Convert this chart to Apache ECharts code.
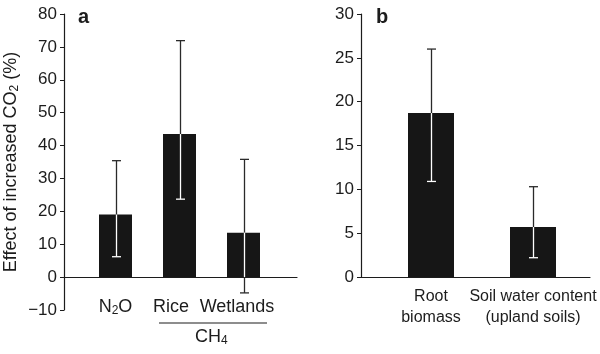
<!DOCTYPE html>
<html>
<head>
<meta charset="utf-8">
<script src="https://cdn.jsdelivr.net/npm/echarts@6/dist/echarts.min.js"></script>
<style>
  html, body { margin: 0; padding: 0; background: #fff; }
  #chart { width: 600px; height: 354px; }
</style>
</head>
<body>
<div id="chart"></div>
<script>
// Panel a: gas emissions
var catsA = ['N2O', 'Rice', 'Wetlands'];
var valuesA = [19.0, 43.5, 13.5];
var lowA = [6.2, 23.7, -4.8];
var highA = [35.4, 71.9, 35.8];

// Panel b: root biomass / soil water
var catsB = ['Root\nbiomass', 'Soil water content\n(upland soils)'];
var valuesB = [18.7, 5.7];
var lowB = [10.9, 2.2];
var highB = [26.0, 10.3];

var FONT = 'Liberation Sans';
var INK = '#1c1c1c';

// main text + subscript styles for rich labels
function subRich(fill, size) {
    var key = fill ? 'fill' : 'color';
    var a = { fontSize: size, fontFamily: FONT, lineHeight: 20, verticalAlign: 'middle' };
    var s = { fontSize: 12, fontFamily: FONT, lineHeight: 8, verticalAlign: 'bottom' };
    a[key] = INK;
    s[key] = INK;
    return { a: a, s: s };
}

function errData(values, low, high) {
    return values.map(function(v, i) { return [i, v, low[i], high[i]]; });
}

// error bar: black outside the bar, white inside it
function renderErr(params, api) {
    var i = api.value(0);
    var v = api.value(1), lo = api.value(2), hi = api.value(3);
    var x = Math.round(api.coord([i, v])[0]) + 0.5;
    var yV = api.coord([i, v])[1];
    var yHi = api.coord([i, hi])[1];
    var yLo = api.coord([i, lo])[1];
    var yZero = api.coord([i, 0])[1];
    var cap = 4.5;
    var children = [];
    var dark = { stroke: '#2a2a2a', lineWidth: 1.3 };
    var light = { stroke: '#ffffff', lineWidth: 1.3 };
    children.push({ type: 'line', shape: { x1: x, y1: yHi, x2: x, y2: yV }, style: dark });
    children.push({ type: 'line', shape: { x1: x - cap, y1: yHi, x2: x + cap, y2: yHi }, style: dark });
    if (lo >= 0) {
        children.push({ type: 'line', shape: { x1: x, y1: yV, x2: x, y2: yLo }, style: light });
        children.push({ type: 'line', shape: { x1: x - cap, y1: yLo, x2: x + cap, y2: yLo }, style: light });
    } else {
        children.push({ type: 'line', shape: { x1: x, y1: yV, x2: x, y2: yZero }, style: light });
        children.push({ type: 'line', shape: { x1: x, y1: yZero, x2: x, y2: yLo }, style: dark });
        children.push({ type: 'line', shape: { x1: x - cap, y1: yLo, x2: x + cap, y2: yLo }, style: dark });
    }
    return { type: 'group', children: children };
}

var chart = echarts.init(document.getElementById('chart'));

var yLabel = {
    color: INK, fontSize: 17, fontFamily: FONT, margin: 7,
    formatter: function(v) { return String(v).replace('-', '\u2212'); }
};

var richA = subRich(false, 18);
// Rice and Wetlands labels sit a little left of their bars
richA.rice = { fontSize: 18, fontFamily: FONT, color: INK, lineHeight: 20, padding: [0, 17, 0, 0] };
richA.wet = { fontSize: 18, fontFamily: FONT, color: INK, lineHeight: 20, padding: [0, 13, 0, 0] };

var option = {
    animation: false,
    backgroundColor: '#fff',
    textStyle: { fontFamily: FONT },
    title: [
        { text: 'a', left: 73, top: 2, textStyle: { fontSize: 20, fontWeight: 'bold', color: INK, fontFamily: FONT } },
        { text: 'b', left: 371, top: 2, textStyle: { fontSize: 20, fontWeight: 'bold', color: INK, fontFamily: FONT } }
    ],
    grid: [
        { left: 64, top: 14, width: 233, height: 296 },   // axes a
        { left: 83.5, top: 14, width: 192, height: 296 }, // bars a
        { left: 361, top: 14, width: 229, height: 263 },  // axes b
        { left: 380, top: 14, width: 204, height: 263 }   // bars b
    ],
    xAxis: [
        { gridIndex: 0, type: 'value', min: 0, max: 1, axisLine: { onZero: true, lineStyle: { color: INK, width: 1.2 } },
          axisTick: { show: false }, axisLabel: { show: false }, splitLine: { show: false } },
        { gridIndex: 1, type: 'category', data: catsA, axisLine: { show: false }, axisTick: { show: false },
          axisLabel: {
              interval: 0, margin: -13, color: INK, fontSize: 18, fontFamily: FONT,
              formatter: function(v) {
                  if (v === 'N2O') return '{a|N}{s|2}{a|O}';
                  if (v === 'Rice') return '{rice|Rice}';
                  return '{wet|' + v + '}';
              },
              rich: richA
          } },
        { gridIndex: 2, type: 'value', min: 0, max: 1, axisLine: { onZero: true, lineStyle: { color: INK, width: 1.2 } },
          axisTick: { show: false }, axisLabel: { show: false }, splitLine: { show: false } },
        { gridIndex: 3, type: 'category', data: catsB, axisLine: { show: false }, axisTick: { show: false },
          axisLabel: { margin: 9, color: INK, fontSize: 16, fontFamily: FONT, lineHeight: 21, interval: 0 } }
    ],
    yAxis: [
        { gridIndex: 0, type: 'value', min: -10, max: 80, interval: 10,
          axisLine: { show: true, lineStyle: { color: INK, width: 1.2 } },
          axisTick: { show: true, length: 4, lineStyle: { color: INK } },
          axisLabel: yLabel, splitLine: { show: false },
          name: '{a|Effect of increased CO}{s|2}{a| (%)}', nameLocation: 'middle', nameGap: 43,
          nameTextStyle: { rich: subRich(false, 18) } },
        { gridIndex: 1, type: 'value', min: -10, max: 80, show: false },
        { gridIndex: 2, type: 'value', min: 0, max: 30, interval: 5,
          axisLine: { show: true, lineStyle: { color: INK, width: 1.2 } },
          axisTick: { show: true, length: 4, lineStyle: { color: INK } },
          axisLabel: yLabel, splitLine: { show: false } },
        { gridIndex: 3, type: 'value', min: 0, max: 30, show: false }
    ],
    series: [
        { type: 'bar', xAxisIndex: 1, yAxisIndex: 1, data: valuesA, barWidth: 33,
          itemStyle: { color: '#161616' } },
        { type: 'custom', xAxisIndex: 1, yAxisIndex: 1, data: errData(valuesA, lowA, highA),
          renderItem: renderErr, z: 5 },
        { type: 'bar', xAxisIndex: 3, yAxisIndex: 3, data: valuesB, barWidth: 46,
          itemStyle: { color: '#161616' } },
        { type: 'custom', xAxisIndex: 3, yAxisIndex: 3, data: errData(valuesB, lowB, highB),
          renderItem: renderErr, z: 5 }
    ],
    graphic: [
        // CH4 group bracket under Rice and Wetlands
        { type: 'line', shape: { x1: 159, y1: 323, x2: 267, y2: 323 }, style: { stroke: INK, lineWidth: 1.2 } },
        { type: 'text', left: 195, top: 328,
          style: { text: '{a|CH}{s|4}', rich: subRich(true, 18) } }
    ]
};

chart.setOption(option);
</script>
</body>
</html>
